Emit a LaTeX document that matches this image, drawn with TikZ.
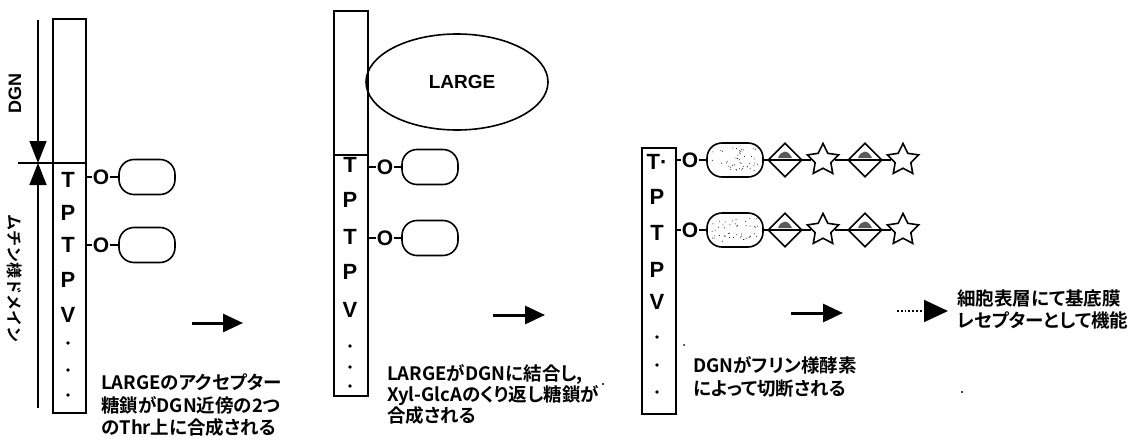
\documentclass[tikz,border=0pt]{standalone}
\usepackage{fontspec}
\setmainfont{Noto Sans CJK JP}[BoldFont={Noto Sans CJK JP Bold}, RawFeature={+palt}]
\newfontfamily\jpmono{Noto Sans CJK JP}[BoldFont={Noto Sans CJK JP Bold}]
\newfontfamily\lat{Liberation Sans}
\usetikzlibrary{arrows.meta,shapes.geometric,calc}
\begin{document}
\begin{tikzpicture}[x=1pt,y=-1pt,
  lw/.style={line width=1.6pt},
  colbox/.style={draw, line width=1.6pt, anchor=north west, inner sep=0pt},
  res/.style={font=\lat\bfseries\fontsize{22}{22}\selectfont, inner sep=0pt},
  olink/.style={font=\lat\bfseries\fontsize{21}{21}\selectfont, inner sep=0.6pt},
  oval/.style={draw, line width=1.6pt, rectangle, rounded corners=15pt, minimum width=56pt, minimum height=35pt, inner sep=0pt},
  jp/.style={font=\bfseries\fontsize{18.5}{18.5}\selectfont, anchor=base west, inner sep=0pt},
  bigarrow/.style={line width=3pt, -{Triangle[length=20pt,width=18pt]}},
  axarrow/.style={line width=1.6pt, -{Triangle[length=22pt,width=17pt]}},
  dmd/.style={draw, diamond, line width=1.6pt, minimum width=34pt, minimum height=34pt, inner sep=0pt, fill=white},
  strshape/.style={draw, star, star points=5, star point ratio=2.0, minimum size=33pt, inner sep=0pt, line width=1.6pt, fill=white},
  resdot/.style={circle, fill=black, inner sep=0pt, minimum size=3.6pt},
  speck/.style={fill=black}
]
\useasboundingbox (0,0) rectangle (1133,442);

% ---------------- Panel 1 ----------------
\node[colbox, minimum width=33pt, minimum height=394pt] (c1) at (52,18) {};
\coordinate (d1) at (18,163);
\draw[lw] (d1) -- (d1 -| c1.east);
\coordinate (axT) at (38,20);
\coordinate (axM) at (38,163);
\coordinate (axB) at (38,408);
\draw[axarrow] (axT) -- (axM);
\draw[axarrow] (axB) -- (axM);
\node[rotate=90, font=\lat\bfseries\fontsize{18}{18}\selectfont, inner sep=0pt] (dgn) at (15,93) {DGN};
\node[rotate=-90, font=\jpmono\bfseries\fontsize{16}{16}\selectfont, inner sep=0pt] (muc) at (15,278) {ムチン様ドメイン};
\foreach \t/\y/\n in {T/180/a,P/213/b,T/245/c,P/280/d,V/315/e}
  \node[res] (c1\n) at (68,\y) {\t};
\foreach \y/\n in {343/f,370/g,395/h}
  \node[resdot] (c1\n) at (68,\y) {};
\foreach \y/\n in {177/1,245/2}{
  \node[olink] (o1\n) at (101,\y) {O};
  \node[oval] (v1\n) at (147,\y) {};
  \draw[lw] (o1\n -| c1.east) -- (o1\n.west);
  \draw[lw] (o1\n.east) -- (v1\n.west);
}
\coordinate (a1s) at (192,323);
\coordinate (a1e) at (243,323);
\draw[bigarrow] (a1s) -- (a1e);
\node[jp] (t11) at (101,389) {LARGEのアクセプター};
\node[jp] (t12) at (101,412) {糖鎖がDGN近傍の2つ};
\node[jp] (t13) at (101,434) {のThr上に合成される};

% ---------------- Panel 2 ----------------
\node[colbox, minimum width=34pt, minimum height=385pt] (c2) at (333,10) {};
\draw[lw] (c2.west |- 0,155) -- (c2.east |- 0,155);
\node[draw, ellipse, lw, minimum width=182pt, minimum height=96pt, inner sep=0pt,
      font=\lat\bfseries\fontsize{19}{19}\selectfont] (large) at (457,82) {\hspace*{10pt}LARGE};
\foreach \t/\y/\n in {T/165/a,P/200/b,T/237/c,P/272/d,V/310/e}
  \node[res] (c2\n) at (350,\y) {\t};
\foreach \y/\n in {346/f,367/g,386/h}
  \node[resdot] (c2\n) at (350,\y) {};
\foreach \y/\n in {167/1,238/2}{
  \node[olink] (o2\n) at (385,\y) {O};
  \node[oval] (v2\n) at (430,\y) {};
  \draw[lw] (o2\n -| c2.east) -- (o2\n.west);
  \draw[lw] (o2\n.east) -- (v2\n.west);
}
\coordinate (a2s) at (493,315);
\coordinate (a2e) at (545,315);
\draw[bigarrow] (a2s) -- (a2e);
\node[jp] (t21) at (387,380) {LARGEがDGNに結合し,};
\node[jp] (t22) at (387,401) {Xyl-GlcAのくり返し糖鎖が};
\node[jp] (t23) at (387,422) {合成される};

% ---------------- Panel 3 ----------------
\node[colbox, minimum width=34pt, minimum height=266pt] (c3) at (641,147) {};
\foreach \t/\y/\n in {T·/162/a,P/197/b,T/233/c,P/270/d,V/302/e}
  \node[res] (c3\n) at (657,\y) {\t};
\foreach \y/\n in {337/f,365/g,392/h}
  \node[resdot] (c3\n) at (657,\y) {};
\pgfmathsetseed{11}
\foreach \y/\n in {160/1,230/2}{
  \node[olink] (o3\n) at (690,\y) {O};
  \node[oval, minimum height=34pt] (v3\n) at (735,\y) {};
  \foreach \i in {1,...,45}
    \fill ($(v3\n)+({rand*23},{rand*12})$) circle (0.5pt);
  \node[dmd] (da\n) at (785,\y) {};
  \node[strshape] (sa\n) at (823,\y) {};
  \node[dmd] (db\n) at (865,\y) {};
  \node[strshape] (sb\n) at (903,\y) {};
  \draw[lw] (o3\n -| c3.east) -- (o3\n.west);
  \draw[lw] (o3\n.east) -- (v3\n.west);
  \draw[lw] (v3\n.east) -- (da\n.west);
  \draw[lw] (da\n.west) -- (da\n.east);
  \draw[lw] (da\n.east) -- (sa\n);
  \draw[lw] (sa\n) -- (db\n.west);
  \draw[lw] (db\n.west) -- (db\n.east);
  \draw[lw] (db\n.east) -- (sb\n);
  \fill[black!65] ($(da\n)+(-7,-2)$) .. controls ($(da\n)+(-4,-10)$) and ($(da\n)+(3,-11)$) .. ($(da\n)+(7,-2)$) -- cycle;
  \fill[black!65] ($(db\n)+(-7,-2)$) .. controls ($(db\n)+(-4,-10)$) and ($(db\n)+(3,-11)$) .. ($(db\n)+(7,-2)$) -- cycle;
}
\coordinate (a3s) at (791,313);
\coordinate (a3e) at (843,313);
\draw[bigarrow] (a3s) -- (a3e);
\node[jp] (t31) at (693,372) {DGNがフリン様酵素};
\node[jp] (t32) at (693,395) {によって切断される};

% ---------------- Panel 4 ----------------
\coordinate (a4s) at (897,311);
\coordinate (a4e) at (948,311);
\draw[line width=1.8pt, dotted, -{Triangle[length=24pt,width=22pt]}] (a4s) -- (a4e);
\node[jp] (t41) at (957,305) {細胞表層にて基底膜};
\node[jp] (t42) at (957,327) {レセプターとして機能};

% specks
\fill[speck] (684,345) circle (1pt);
\fill[speck] (603,384) circle (1.1pt);
\fill[speck] (962,392) circle (1.2pt);
\end{tikzpicture}
\end{document}
